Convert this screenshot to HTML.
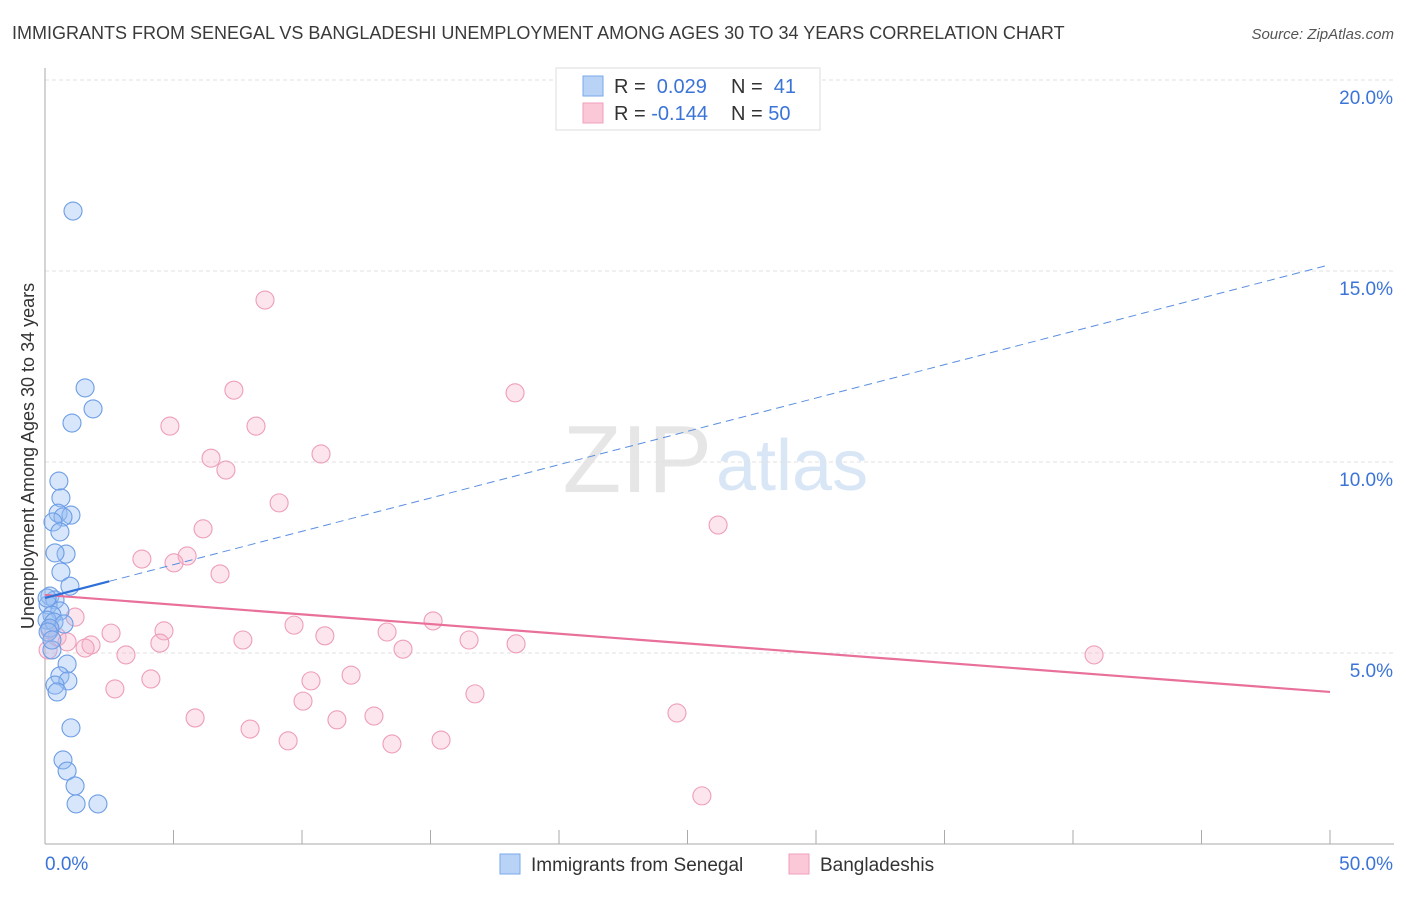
<!DOCTYPE html>
<html><head><meta charset="utf-8"><style>
body{margin:0;background:#fff;font-family:"Liberation Sans",sans-serif;}
svg text{font-family:"Liberation Sans",sans-serif;}
</style></head><body>
<svg id="chart" width="1406" height="892">
<text x="12" y="39" font-size="18" fill="#3a3a3a">IMMIGRANTS FROM SENEGAL VS BANGLADESHI UNEMPLOYMENT AMONG AGES 30 TO 34 YEARS CORRELATION CHART</text>
<text x="1394" y="39" font-size="15" fill="#555" font-style="italic" text-anchor="end">Source: ZipAtlas.com</text>
<text x="712" y="492" font-size="96" fill="#e6e6e6" text-anchor="end" font-family="Liberation Serif">ZIP</text>
<text x="716" y="490" font-size="72" fill="#d9e6f6">atlas</text>
<g id="grid"></g>
<line x1="45" y1="68" x2="45" y2="844" stroke="#aaa"/>
<line x1="45" y1="844" x2="1394" y2="844" stroke="#aaa"/>
<text x="34" y="456" font-size="18" fill="#333" text-anchor="middle" transform="rotate(-90 34 456)">Unemployment Among Ages 30 to 34 years</text>
<g id="marks"></g>
<g>
<rect x="556" y="68" width="264" height="62" fill="#fff" stroke="#ddd"/>
<rect x="583" y="76" width="20" height="20" fill="#b9d3f7" stroke="#7aaae8"/>
<rect x="583" y="103" width="20" height="20" fill="#fbc8d8" stroke="#f0a0bb"/>
<text x="614" y="93" font-size="20" fill="#333">R = <tspan fill="#3b74d8">&#160;0.029</tspan><tspan x="731">N = </tspan><tspan fill="#3b74d8">&#160;41</tspan></text>
<text x="614" y="120" font-size="20" fill="#333">R = <tspan fill="#3b74d8">-0.144</tspan><tspan x="731">N = </tspan><tspan fill="#3b74d8">50</tspan></text>
</g>
<g>
<rect x="500" y="854" width="20" height="20" fill="#b9d3f7" stroke="#7aaae8"/>
<text x="531" y="871" font-size="19" fill="#333">Immigrants from Senegal</text>
<rect x="789" y="854" width="20" height="20" fill="#fbc8d8" stroke="#f0a0bb"/>
<text x="820" y="871" font-size="19" fill="#333">Bangladeshis</text>
</g>
</svg>
<script>
const yTicks=[5,10,15,20];
const xTickLabels=["0.0%","50.0%"];
const blueX=[1.09,1.56,1.87,1.05,0.54,0.62,0.51,1.01,0.70,0.31,0.58,0.82,0.39,0.62,0.97,0.19,0.39,0.12,0.58,0.27,0.08,0.35,0.74,0.19,0.12,0.86,0.58,0.89,0.39,0.47,1.01,0.70,0.86,1.17,1.21,2.06,0.27,0.08,0.27];
const blueY=[16.57,11.94,11.39,11.02,9.50,9.06,8.66,8.61,8.56,8.43,8.17,7.59,7.62,7.12,6.75,6.49,6.39,6.26,6.10,5.99,5.86,5.81,5.76,5.65,5.55,4.71,4.40,4.27,4.16,3.98,3.04,2.20,1.91,1.52,1.05,1.05,5.08,6.44,5.34];
const pinkX=[8.56,7.35,18.29,4.86,8.21,6.46,10.74,7.04,9.11,26.19,6.15,3.77,5.53,5.02,6.81,1.17,15.10,9.69,2.57,4.63,13.31,10.89,0.47,7.70,16.50,4.47,18.33,0.86,1.79,13.93,3.15,40.82,0.12,4.12,11.91,10.35,2.72,16.73,10.04,5.84,11.36,12.80,24.59,7.98,9.46,13.50,15.41,25.56,1.56,0.19];
const pinkY=[14.24,11.88,11.81,10.94,10.94,10.10,10.21,9.79,8.93,8.35,8.25,7.46,7.54,7.36,7.07,5.94,5.84,5.73,5.52,5.58,5.55,5.45,5.42,5.34,5.34,5.26,5.24,5.29,5.21,5.10,4.95,4.95,5.08,4.32,4.42,4.27,4.06,3.93,3.74,3.30,3.25,3.35,3.43,3.01,2.70,2.62,2.72,1.26,5.13,5.60];
const blueTrend=[6.44,0.1745];
const pinkTrend=[6.52,-0.0508];
const NS='http://www.w3.org/2000/svg';
const sx=v=>45+v*25.7, sy=v=>844-v*38.2;
function mk(t,a,p){const e=document.createElementNS(NS,t);for(const k in a)e.setAttribute(k,a[k]);p.appendChild(e);return e;}
const grid=document.getElementById('grid'),marks=document.getElementById('marks');
yTicks.forEach(v=>{
 const l=mk('line',{x1:45,x2:1394,y1:sy(v),y2:sy(v),stroke:'#e2e2e2','stroke-dasharray':'4,3'},grid);
 
 
 const t=mk('text',{x:1393,y:sy(v)+24,'font-size':19,fill:'#3b74d8','text-anchor':'end'},grid);
 t.textContent=v.toFixed(1)+'%';
 
 
});
for(let i=0;i<=10;i++){
 const l=mk('line',{x1:sx(i*5),x2:sx(i*5),y1:830,y2:844,stroke:'#aaa'},grid);
 
 
}
[[0,'start',45],[1,'end',1393]].forEach(([i,a,x])=>{
 const t=mk('text',{x:x,y:870,'font-size':19,fill:'#3b74d8','text-anchor':a},grid);
 t.textContent=xTickLabels[i];
 
 
});
function dots(X,Y,fill,stroke,name){X.forEach((x,i)=>{
 const c=mk('circle',{cx:sx(x),cy:sy(Y[i]),r:9,fill:fill,stroke:stroke,'stroke-width':1.1},marks);
 
 
});}
dots(pinkX,pinkY,'rgba(247,175,200,0.32)','#ee9dba','bangladeshi-point');
dots(blueX,blueY,'rgba(150,190,242,0.38)','#6c9de6','senegal-point');
let l=mk('line',{x1:sx(0),y1:sy(pinkTrend[0]),x2:sx(50),y2:sy(pinkTrend[0]+50*pinkTrend[1]),stroke:'#e8709a','stroke-width':2.2},marks);


l=mk('line',{x1:sx(0),y1:sy(blueTrend[0]),x2:sx(2.5),y2:sy(blueTrend[0]+2.5*blueTrend[1]),stroke:'#2f6fd8','stroke-width':2.2},marks);


l=mk('line',{x1:sx(2.5),y1:sy(blueTrend[0]+2.5*blueTrend[1]),x2:sx(49.8),y2:sy(blueTrend[0]+49.8*blueTrend[1]),stroke:'#5a8ee0','stroke-width':1,'stroke-dasharray':'8,5'},marks);


</script>
</body></html>
